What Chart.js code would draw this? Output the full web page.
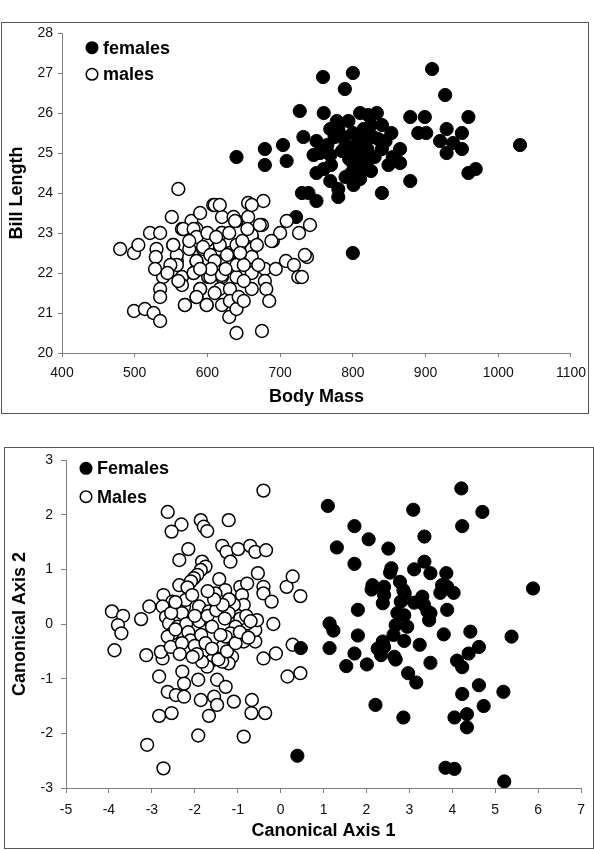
<!DOCTYPE html>
<html>
<head>
<meta charset="utf-8">
<script src="https://cdn.jsdelivr.net/npm/chart.js@4.4.0/dist/chart.umd.min.js"></script>
<style>
  body { margin: 0; background: #fff; width: 594px; height: 850px; position: relative; overflow: hidden; }
  .frame { position: absolute; border: 1px solid #555; box-sizing: border-box; }
  canvas { position: absolute; left: 0; }
</style>
</head>
<body>
<div class="frame" style="left:1px;top:22px;width:588px;height:392px"></div>
<div class="frame" style="left:4px;top:447px;width:590px;height:402px"></div>
<canvas id="morpho" width="594" height="415" style="top:0;width:594px;height:415px"></canvas>
<canvas id="canonical" width="594" height="420" style="top:430px;width:594px;height:420px"></canvas>
<script>
// top chart: body mass vs bill length  [mass, bill]
const femalesMorpho = [
  [759,26.9],[800,27.0],[789,26.6],[909,27.1],[927,26.45],
  [727,26.05],[760,26.0],[810,26.0],[833,26.0],[821,25.95],[778,25.8],[794,25.8],[840,25.7],[879,25.9],[899,25.9],[959,25.9],
  [853,25.5],[929,25.6],[950,25.5],[890,25.5],[901,25.5],[732,25.4],[750,25.3],[769,25.6],
  [775,25.4],[787,25.4],[805,25.45],[815,25.4],[828,25.4],[835,25.35],
  [920,25.3],[938,25.25],[950,25.1],[929,25.0],[865,25.1],[840,25.1],[679,25.1],[704,25.2],
  [640,24.9],[679,24.7],[709,24.8],[746,24.95],[769,24.95],
  [796,25.0],[805,24.95],[815,24.9],[801,24.7],[812,24.6],[825,24.55],[798,24.5],
  [849,24.7],[865,24.75],[750,24.5],[769,24.3],[801,24.2],[780,24.1],[780,23.9],[730,24.0],[739,24.0],[750,23.8],
  [840,24.0],[879,24.3],[959,24.5],[969,24.6],[1030,25.2],[722,23.4],[800,22.5],
  [790,25.2],[800,25.15],[810,25.2],[820,25.1],[785,25.05],[795,24.85],[820,24.8],[830,24.9],[808,24.75],
  [815,25.6],[825,25.7],[780,25.6],[765,25.2],[755,25.0],[770,24.7],[790,24.4],[810,24.35],[800,25.5],[845,25.3],[855,24.9],[760,24.6]
];
const malesMorpho = [
  [480,22.6],[499,22.5],[505,22.7],[521,23.0],[535,23.0],[530,22.6],[529,22.4],[551,23.4],[553,22.7],[565,23.1],
  [578,23.3],[590,23.5],[608,23.7],[585,23.1],[558,22.3],[539,21.9],[535,21.6],[535,21.4],[499,21.05],[514,21.1],
  [526,21.0],[535,20.8],[565,21.9],[565,21.7],[581,22.0],[569,21.2],[585,22.3],[585,21.4],[590,21.6],[599,21.2],
  [601,21.9],[594,22.6],[599,22.8],[620,23.0],[620,23.4],[610,23.7],[617,22.6],[620,21.9],[617,21.6],[620,21.2],
  [631,21.6],[631,21.3],[630,20.9],[640,21.1],[643,21.4],[640,21.9],[640,22.2],[631,22.5],[640,22.7],[640,23.3],
  [636,23.4],[656,23.4],[661,22.9],[661,22.6],[661,22.4],[661,22.0],[661,21.6],[640,20.5],[675,20.55],[675,23.2],
  [679,22.1],[679,21.8],[681,21.6],[685,21.3],[690,22.8],[694,22.1],[700,23.0],[709,23.3],[708,22.3],[719,22.2],
  [726,23.0],[725,21.9],[656,23.75],[677,23.8],[661,23.7],[560,24.1],
  [741,23.2],[737,22.4],[730,21.9],[672,23.2],[661,22.95],[638,23.3],[617,23.7],[688,22.8],[734,22.45],
  [567,23.1],[581,23.1],[585,22.9],[594,22.65],[604,22.45],[620,23.0],[617,22.7],[627,22.45],[585,22.3],[581,22.0],
  [604,21.9],[620,21.95],[590,21.6],[599,21.2],[569,21.2],[585,21.4],[558,22.45],[558,22.2],[553,22.7],[549,22.2],
  [610,22.3],[625,22.1],[650,22.2],[648,22.8],[655,23.1],[630,23.0],[600,23.0],[575,22.6],[545,22.0],[560,21.8],
  [610,21.5],[650,21.8],[670,22.2],[668,22.7],[605,22.1],[645,22.5],[575,22.8],[528,22.1],[590,22.1],[650,21.3],[612,22.9]
];
const massTicks = [400, 500, 600, 700, 800, 900, 1000, 1100];
const billTicks = [20, 21, 22, 23, 24, 25, 26, 27, 28];

// bottom chart: canonical scores  [axis1, axis2]
const femalesCanon = [
  [4.21,2.48],[1.10,2.16],[3.09,2.09],[4.70,2.05],[1.72,1.79],[4.23,1.79],[2.05,1.55],[3.35,1.60],[1.31,1.40],[2.51,1.38],
  [1.72,1.10],[2.58,1.02],[2.55,0.94],[3.11,1.00],[3.35,1.14],[3.49,0.93],[3.86,0.93],[2.14,0.71],[2.12,0.63],[2.41,0.68],
  [2.41,0.53],[2.38,0.38],[2.78,0.77],[2.86,0.62],[2.89,0.56],
  [2.80,0.41],[2.72,0.20],[2.88,0.16],[2.68,-0.02],[2.95,-0.05],[2.63,-0.20],[2.88,-0.31],
  [3.11,0.39],[3.30,0.50],[3.34,0.35],[3.42,0.23],[3.46,0.07],[3.49,0.20],
  [3.72,0.57],[3.88,0.68],[4.03,0.57],[3.76,0.71],[3.88,0.26],[3.80,-0.19],[4.42,-0.14],[4.62,-0.42],[4.38,-0.54],
  [4.11,-0.67],[4.23,-0.79],[5.38,-0.23],[5.88,0.65],[3.24,-0.38],[3.49,-0.71],[2.97,-0.90],[3.16,-1.07],
  [2.41,-0.42],[2.26,-0.45],[2.34,-0.57],[2.65,-0.60],[2.68,-0.65],[2.38,-0.32],[1.80,0.26],[1.80,-0.21],
  [1.14,0.01],[1.23,-0.12],[1.14,-0.44],[1.72,-0.54],[1.53,-0.77],[2.01,-0.74],
  [4.23,-1.28],[4.62,-1.12],[5.19,-1.24],[4.73,-1.50],[4.34,-1.65],[4.05,-1.71],[4.34,-1.89],[2.21,-1.48],[2.86,-1.71],
  [0.39,-2.41],[3.84,-2.63],[4.05,-2.65],[5.21,-2.88],[0.47,-0.44]
];
const malesCanon = [
  [-0.40,2.44],[-2.63,2.05],[-2.31,1.82],[-2.54,1.69],[-1.86,1.90],[-1.79,1.78],[-1.71,1.70],[-1.21,1.90],[-2.15,1.37],
  [-2.36,1.17],[-1.36,1.43],[-1.26,1.32],[-0.99,1.37],[-0.71,1.43],[-0.59,1.32],[-0.34,1.35],[-1.17,1.14],
  [-1.83,1.14],[-1.75,1.05],[-1.86,0.99],[-1.94,0.90],[-2.02,0.84],[-2.09,0.78],[-2.36,0.71],[-2.17,0.67],[-1.43,0.82],
  [-1.29,0.62],[-1.52,0.56],[-0.94,0.68],[-0.78,0.74],[-0.53,0.93],[-0.40,0.68],[-0.40,0.56],[-0.21,0.41],[-0.90,0.53],
  [-0.86,0.35],[-1.09,0.35],[-1.21,0.20],[0.14,0.68],[0.28,0.87],[0.46,0.51],
  [-2.73,0.53],[-2.52,0.41],[-2.25,0.32],[-2.21,0.44],[-2.06,0.53],[-1.90,0.32],[-1.67,0.23],[-1.48,0.32],[-1.83,0.10],
  [-2.75,0.32],[-3.06,0.32],[-3.25,0.09],[-3.93,0.23],[-3.67,0.15],[-3.79,-0.02],[-3.71,-0.17],[-3.87,-0.48],[-3.13,-0.57],
  [-2.75,-0.63],[-2.79,-0.51],[-2.67,0.13],[-2.60,0.01],[-2.52,-0.17],[-2.40,-0.05],[-2.63,-0.23],[-2.56,-0.42],
  [-1.36,-0.42],[-1.13,-0.60],[-1.21,-0.72],[-1.36,-0.69],[-1.59,-0.66],[-1.71,-0.78],[-1.83,-0.69],[-0.86,-0.32],
  [-0.59,-0.32],[-0.59,-0.11],[-0.55,0.07],[-0.78,0.01],[-0.94,0.10],[-1.05,-0.05],[-1.17,-0.17],[-1.28,-0.23],
  [-0.17,0.0],[-0.40,-0.63],[-0.11,-0.54],[0.28,-0.38],[0.16,-0.96],[0.46,-0.90],
  [-2.83,-0.96],[-2.29,-0.87],[-2.25,-1.09],[-1.92,-1.02],[-1.48,-1.02],[-1.28,-1.15],[-2.63,-1.24],[-2.44,-1.30],
  [-2.25,-1.33],[-1.86,-1.39],[-1.55,-1.33],[-1.48,-1.48],[-1.09,-1.42],[-0.67,-1.39],[-0.68,-1.63],[-0.36,-1.63],
  [-2.83,-1.68],[-2.54,-1.63],[-1.67,-1.68],[-1.92,-2.04],[-0.86,-2.06],[-3.11,-2.21],[-2.73,-2.64],
  [-2.3,0.2],[-2.2,0.0],[-2.15,-0.15],[-2.1,-0.3],[-2.0,-0.4],[-1.95,-0.55],[-2.05,-0.6],[-2.3,-0.35],[-2.35,-0.55],
  [-2.45,-0.1],[-1.9,0.05],[-1.7,0.15],[-1.6,-0.05],[-1.5,0.25],[-1.4,-0.2],[-1.3,0.1],[-1.2,0.45],[-1.35,0.35],
  [-1.55,0.45],[-1.7,0.6],[-1.85,-0.2],[-1.75,-0.35],[-1.6,-0.45],[-1.45,-0.65],[-1.25,-0.5],[-1.05,-0.35],
  [-0.95,-0.15],[-0.8,0.15],[-0.7,0.05],[-0.75,-0.25],[-2.55,0.2],[-2.45,0.4],[-2.0,0.15]
];
const axis1Ticks = [-5, -4, -3, -2, -1, 0, 1, 2, 3, 4, 5, 6, 7];
const axis2Ticks = [-3, -2, -1, 0, 1, 2, 3];

const fontFamily = "'Liberation Sans', Arial, Helvetica, sans-serif";

function toPoints(pairs) {
  return pairs.map(p => ({ x: p[0], y: p[1] }));
}

// legend drawn inside the plot, top-left
const insideLegend = {
  id: "insideLegend",
  afterDraw(chart, args, opts) {
    const ctx = chart.ctx;
    ctx.save();
    ctx.font = "bold 18px " + fontFamily;
    ctx.textBaseline = "middle";
    ctx.textAlign = "left";
    chart.data.datasets.forEach((ds, i) => {
      const y = opts.y + i * opts.gap;
      ctx.beginPath();
      ctx.arc(opts.x, y, opts.r, 0, Math.PI * 2);
      ctx.fillStyle = ds.backgroundColor;
      ctx.fill();
      ctx.lineWidth = 1.5;
      ctx.strokeStyle = "#000";
      ctx.stroke();
      ctx.fillStyle = "#000";
      ctx.fillText(ds.label, opts.textX, y + 1);
    });
    ctx.restore();
  },
};

function axisOptions(ticksList, title, o) {
  return {
    type: "linear",
    position: o.position,
    min: ticksList[0],
    max: ticksList[ticksList.length - 1],
    afterBuildTicks: (s) => { s.ticks = ticksList.map(v => ({ value: v })); },
    afterFit: (s) => { if (o.position === "left") s.width = o.size; else s.height = o.size; },
    grid: { drawOnChartArea: false, drawTicks: true, tickLength: o.tick, color: "#808080", lineWidth: 1 },
    border: { display: true, color: "#808080", width: 1 },
    ticks: {
      padding: o.pad,
      color: "#111",
      font: { family: fontFamily, size: 14 },
      autoSkip: false,
      maxRotation: 0,
      callback: (v) => String(v),
    },
    title: {
      display: true,
      text: title,
      color: "#000",
      font: { family: fontFamily, size: 18, weight: "bold" },
      padding: o.titlePad,
    },
  };
}

function makeChart(el, cfg) {
  return new Chart(el, {
    type: "scatter",
    data: {
      datasets: [
        {
          label: cfg.labels[0],
          data: toPoints(cfg.females),
          backgroundColor: "#000",
          borderColor: "#000",
          borderWidth: 1,
          pointRadius: 6.6,
          order: cfg.femaleOrder,
        },
        {
          label: cfg.labels[1],
          data: toPoints(cfg.males),
          backgroundColor: "#fff",
          borderColor: "#000",
          borderWidth: 1.5,
          pointRadius: 6.4,
          order: 0,
        },
      ],
    },
    options: {
      responsive: false,
      animation: false,
      events: [],
      layout: { padding: cfg.padding },
      scales: {
        x: axisOptions(cfg.xTicks, cfg.xTitle, cfg.xOpt),
        y: axisOptions(cfg.yTicks, cfg.yTitle, cfg.yOpt),
      },
      plugins: {
        legend: { display: false },
        tooltip: { enabled: false },
        insideLegend: cfg.legend,
      },
    },
    plugins: [insideLegend],
  });
}

makeChart(document.getElementById("morpho"), {
  labels: ["females", "males"],
  females: femalesMorpho,
  males: malesMorpho,
  femaleOrder: 1,
  xTicks: massTicks,
  yTicks: billTicks,
  xTitle: "Body Mass",
  yTitle: "Bill Length",
  padding: { top: 33, right: 23, bottom: 0, left: 0 },
  xOpt: { position: "bottom", size: 62, tick: 4, pad: 8, titlePad: { top: 0, bottom: 7 } },
  yOpt: { position: "left", size: 62, tick: 4, pad: 5, titlePad: { top: 6, bottom: 0 } },
  legend: { x: 92, y: 47.7, gap: 26.6, r: 5.8, textX: 103 },
});

makeChart(document.getElementById("canonical"), {
  labels: ["Females", "Males"],
  females: femalesCanon,
  males: malesCanon,
  femaleOrder: -1,
  xTicks: axis1Ticks,
  yTicks: axis2Ticks,
  xTitle: "Canonical Axis 1",
  yTitle: "Canonical Axis 2",
  padding: { top: 30, right: 9, bottom: 0, left: 0 },
  xOpt: { position: "bottom", size: 62, tick: 5, pad: 9, titlePad: { top: 0, bottom: 8 } },
  yOpt: { position: "left", size: 66, tick: 5, pad: 8, titlePad: { top: 9, bottom: 0 } },
  legend: { x: 86, y: 38.3, gap: 28.4, r: 5.8, textX: 97 },
});
</script>
</body>
</html>
